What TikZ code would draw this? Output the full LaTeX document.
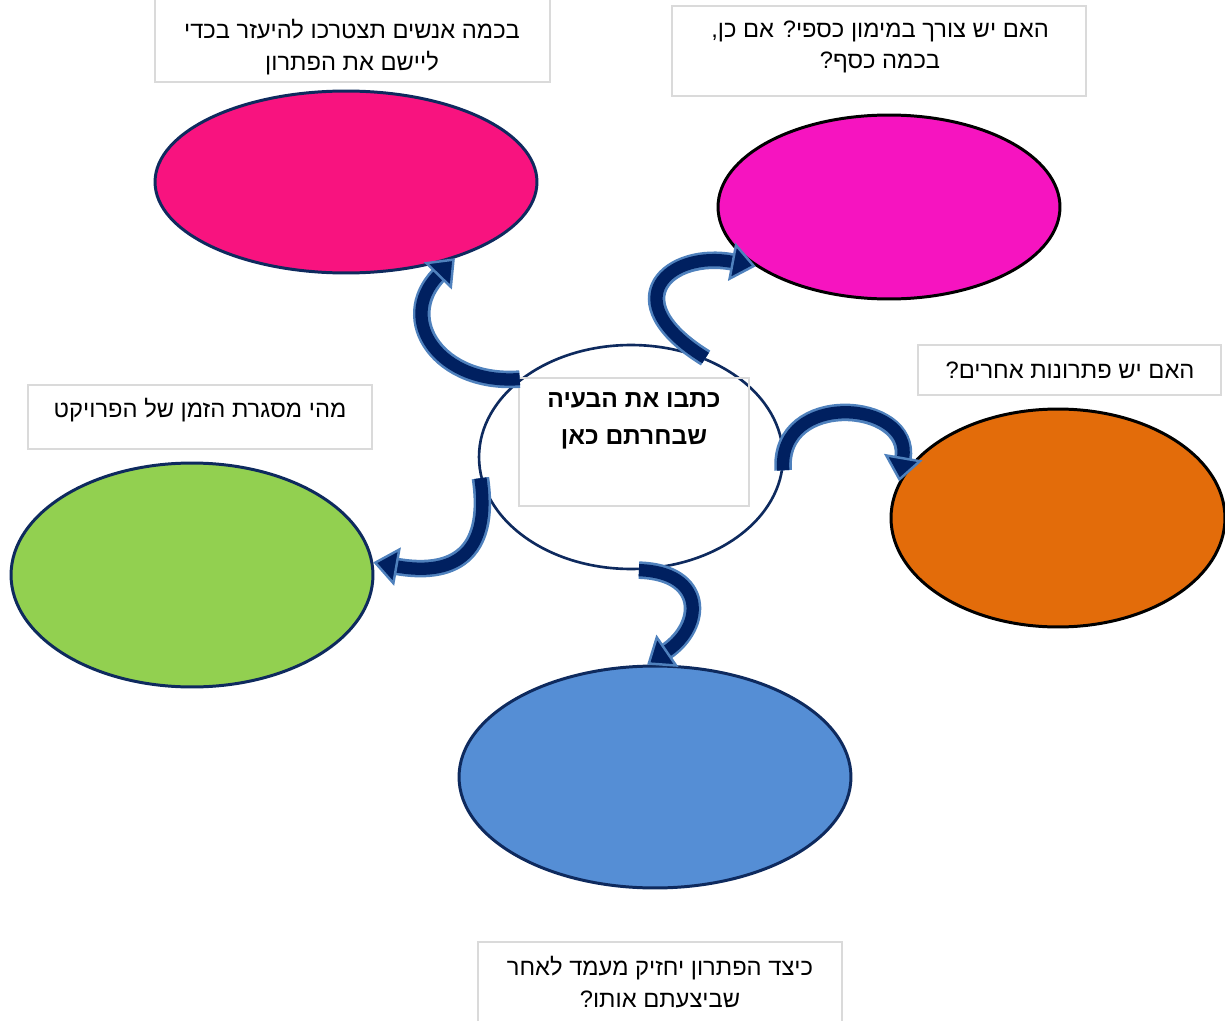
\documentclass[tikz,border=0pt]{standalone}
\usepackage{fontspec}
\setmainfont{Liberation Sans}
\newfontfamily\hebfont[Script=Hebrew]{Liberation Sans}
\TeXXeTstate=1
\usetikzlibrary{arrows.meta, shapes.geometric}

\definecolor{arrowfill}{HTML}{002060}
\definecolor{arrowedge}{HTML}{4F81BD}
\definecolor{bubbleline}{HTML}{0E2A5E}
\definecolor{framegray}{HTML}{DADADA}
\definecolor{pinkfill}{HTML}{F8137F}
\definecolor{magentafill}{HTML}{F614C0}
\definecolor{orangefill}{HTML}{E36C0A}
\definecolor{greenfill}{HTML}{92D050}
\definecolor{bluefill}{HTML}{558ED5}

\newcommand{\heb}[1]{{\hebfont\beginR #1\endR}}

\begin{document}
\begin{tikzpicture}[x=0.02cm, y=-0.02cm]
    % Define styles
    \tikzset{
        bubble/.style={ellipse, line width=1.7pt, inner sep=0pt},
        qframe/.style={draw=framegray, line width=0.7pt},
        question/.style={align=center, font=\fontsize{13.5}{18}\selectfont},
        curved/.style={draw=arrowfill, line width=7pt,
            -{Triangle[length=14pt, width=22pt, fill=arrowfill, color=arrowedge, line width=1.4pt]},
            preaction={draw=arrowedge, line width=10pt, -, shorten >=13pt}}
    }

    \useasboundingbox (0,0) rectangle (1225,1021);
    \clip (0,0) rectangle (1225,1021);

    % Question boxes
    \draw[qframe] (155,-5) rectangle (550,82);
    \draw[qframe] (672,6) rectangle (1086,96);
    \draw[qframe] (918,345) rectangle (1221,395);
    \draw[qframe] (28,385) rectangle (372,449);
    \draw[qframe] (478,942) rectangle (842,1030);

    % Ellipses
    \node[bubble, draw=bubbleline, fill=pinkfill, minimum width=7.64cm, minimum height=3.64cm] (people) at (346,182) {};
    \node[bubble, draw=black, fill=magentafill, minimum width=6.84cm, minimum height=3.68cm] (funding) at (889,207) {};
    \node[bubble, draw=black, fill=orangefill, minimum width=6.68cm, minimum height=4.36cm] (others) at (1058,518) {};
    \node[bubble, draw=bubbleline, fill=greenfill, minimum width=7.24cm, minimum height=4.48cm] (timeframe) at (192,575) {};
    \node[bubble, draw=bubbleline, fill=bluefill, minimum width=7.84cm, minimum height=4.44cm] (lasting) at (655,777) {};
    \node[bubble, draw=bubbleline, fill=white, line width=1.5pt, minimum width=6.08cm, minimum height=4.48cm] (problem) at (631,457) {};
    \draw[qframe] (519,378) rectangle (749,506);

    % Arrows
    \draw[curved] (problem.145) .. controls (440,385) and (395,320) .. (people.-35);
    \draw[curved] (problem.53) .. controls (612,300) and (670,250) .. (funding.204);
    \draw[curved] (problem.-5) .. controls (777,390) and (913,400) .. (others.167);
    \draw[curved] (problem.188) .. controls (492,557) and (451,576) .. (timeframe.4);
    \draw[curved] (problem.-86) .. controls (705,572) and (705,625) .. (lasting.94);

    % Texts
    \node[question] (peopleq) at (352,47) {\heb{בכמה אנשים תצטרכו להיעזר בכדי}\\\heb{ליישם את הפתרון}};
    \node[question] (fundingq) at (880,47) {\heb{האם יש צורך במימון כספי? אם כן,}\\\heb{בכמה כסף?}};
    \node[question] (othersq) at (1070,370) {\heb{האם יש פתרונות אחרים?}};
    \node[question] (timeframeq) at (200,410) {\heb{מהי מסגרת הזמן של הפרויקט}};
    \node[question] (lastingq) at (660,982) {\heb{כיצד הפתרון יחזיק מעמד לאחר}\\\heb{שביצעתם אותו?}};
    \node[question, font=\fontsize{14}{21}\selectfont\bfseries] (problemq) at (634,421) {\heb{כתבו את הבעיה}\\\heb{שבחרתם כאן}};
\end{tikzpicture}
\end{document}
